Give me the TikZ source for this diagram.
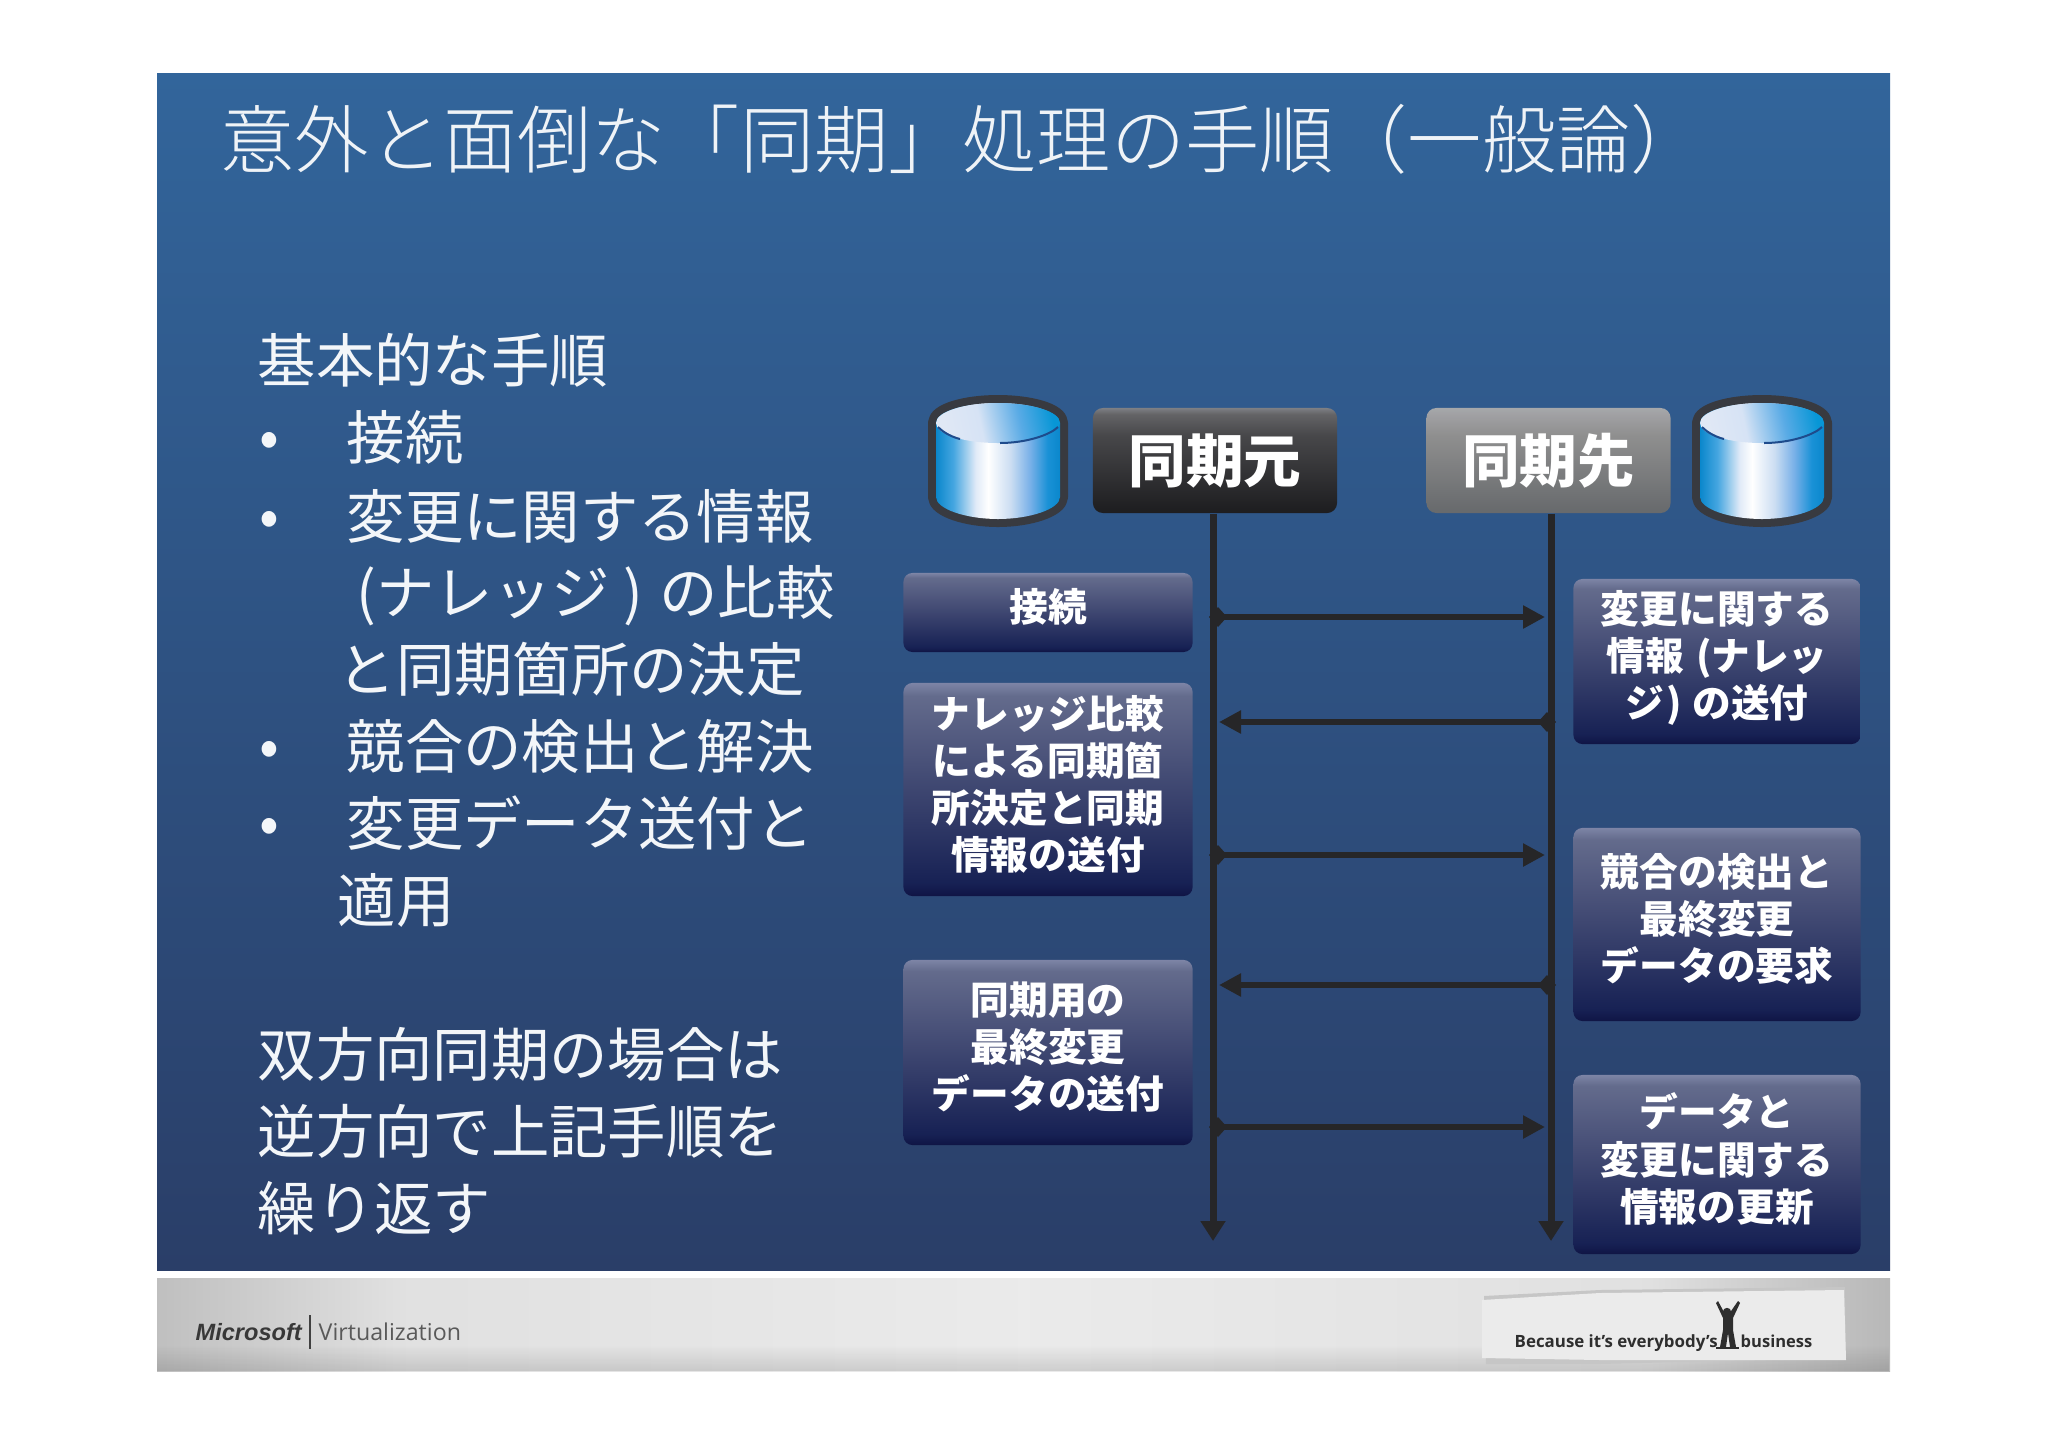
\documentclass[tikz,border=0pt]{standalone}
\usepackage{fontspec}
\usepackage{xcolor}
\usetikzlibrary{arrows.meta,fadings}
\setmainfont{Noto Sans CJK JP}
\newfontfamily\titlefont{Noto Sans CJK JP Light}
\newfontfamily\logofont{Liberation Sans}
\newfontfamily\footfont{Open Sans}
\definecolor{inkdark}{RGB}{38,38,40}
\definecolor{drumedge}{RGB}{56,58,64}
\definecolor{panelup}{RGB}{50,101,155}
\definecolor{panelmid}{RGB}{48,88,138}
\definecolor{paneldown}{RGB}{42,62,104}
\definecolor{rimblue}{RGB}{30,75,140}
\pgfdeclareverticalshading{navyface}{100bp}{rgb(0bp)=(0.06,0.08,0.27); rgb(25bp)=(0.06,0.08,0.27); rgb(28bp)=(0.09,0.13,0.33); rgb(60bp)=(0.31,0.34,0.49); rgb(72bp)=(0.39,0.42,0.55); rgb(75bp)=(0.49,0.52,0.65); rgb(100bp)=(0.49,0.52,0.65)}
\pgfdeclareverticalshading{darkface}{100bp}{rgb(0bp)=(0.11,0.11,0.12); rgb(27bp)=(0.12,0.12,0.13); rgb(62bp)=(0.28,0.28,0.29); rgb(72bp)=(0.39,0.39,0.40); rgb(75bp)=(0.49,0.50,0.52); rgb(100bp)=(0.49,0.50,0.52)}
\pgfdeclareverticalshading{greyface}{100bp}{rgb(0bp)=(0.35,0.36,0.38); rgb(27bp)=(0.41,0.42,0.43); rgb(62bp)=(0.56,0.56,0.56); rgb(72bp)=(0.63,0.63,0.64); rgb(75bp)=(0.65,0.66,0.67); rgb(100bp)=(0.65,0.66,0.67)}
\pgfdeclarehorizontalshading{drumface}{100bp}{rgb(0bp)=(0.04,0.53,0.80); rgb(25bp)=(0.04,0.53,0.80); rgb(32bp)=(0.27,0.65,0.88); rgb(41bp)=(0.88,0.92,0.97); rgb(46bp)=(1,1,1); rgb(55bp)=(0.80,0.87,0.95); rgb(63bp)=(0.47,0.69,0.91); rgb(70bp)=(0.10,0.57,0.84); rgb(75bp)=(0.04,0.53,0.80); rgb(100bp)=(0.04,0.53,0.80)}
\pgfdeclarehorizontalshading{drumtop}{100bp}{rgb(0bp)=(0.88,0.91,0.96); rgb(25bp)=(0.88,0.91,0.96); rgb(42bp)=(0.84,0.89,0.96); rgb(60bp)=(0.35,0.67,0.90); rgb(75bp)=(0.03,0.59,0.84); rgb(100bp)=(0.03,0.59,0.84)}
\pgfdeclarehorizontalshading{barface}{100bp}{gray(0bp)=(0.75); gray(25bp)=(0.75); gray(32bp)=(0.88); gray(50bp)=(0.92); gray(68bp)=(0.88); gray(75bp)=(0.72); gray(100bp)=(0.72)}
\tikzset{
  stepbox/.style={shading=navyface, rounded corners=0.09cm, inner sep=0pt, minimum width=2.89cm, text depth=4.2pt,
    align=center, text=white, font=\fontsize{11}{13.4}\selectfont\bfseries},
  headbox/.style={rounded corners=0.1cm, inner sep=0pt, minimum width=2.44cm, minimum height=1.05cm,
    text=white, font=\fontsize{16.4}{18}\selectfont\bfseries},
  bodytext/.style={anchor=base west, inner sep=0pt, text=white!94!panelup, font=\fontsize{16.6}{18}\selectfont},
  lifeline/.style={draw=inkdark, line width=0.07cm, -{Triangle[length=0.2cm,width=0.24cm]}},
  msgline/.style={draw=inkdark, line width=0.065cm, {Diamond[length=0.18cm,width=0.2cm]}-{Triangle[length=0.22cm,width=0.22cm]}, shorten >=0.06cm},
}
\newcommand{\drum}[2]{
  \begin{scope}[shift={(#1,#2)}]
    \draw[drumedge, line width=0.16cm, line join=round] (8,26) -- (8,100) .. controls (8,112) and (38,122) .. (70,122) .. controls (102,122) and (132,112) .. (132,100) -- (132,26) .. controls (132,14) and (102,6) .. (70,6) .. controls (38,6) and (8,14) .. (8,26) -- cycle;
    \shade[shading=drumface] (8,26) -- (8,100) .. controls (8,112) and (38,122) .. (70,122) .. controls (102,122) and (132,112) .. (132,100) -- (132,26) .. controls (132,14) and (102,6) .. (70,6) .. controls (38,6) and (8,14) .. (8,26) -- cycle;
    \shade[shading=drumtop, shading angle=12] (70,26) ellipse [x radius=62, y radius=20];
    \draw[rimblue, line width=0.02cm] (10,30) .. controls (16,36) and (24,40) .. (32,42);
    \draw[rimblue, line width=0.02cm] (72,46) .. controls (98,46) and (122,38) .. (130,30);
  \end{scope}
}
\begin{document}
\begin{tikzpicture}[x=0.01cm,y=-0.01cm]
  \useasboundingbox (0,0) rectangle (2048,1448);
  \fill[white] (0,0) rectangle (2048,1448);
  % panel and footer
  \shade[top color=panelup, middle color=panelmid, bottom color=paneldown] (157,73) rectangle (1890,1270);
  \shade[shading=barface] (157,1278) rectangle (1890,1371);
  \fill[black, fill opacity=0.12, path fading=north] (157,1345) rectangle (1890,1371);
  % title
  \node[anchor=base west, inner sep=0pt, text=white!92!panelup, font=\fontsize{21.1}{23}\selectfont\titlefont] (title) at (220,167) {意外と面倒な「同期」処理の手順（一般論）};
  % left text
  \node[bodytext] (basic) at (257,382) {基本的な手順};
  \node[bodytext] (dot1) at (259,457) {•};
  \node[bodytext] (item1) at (346,459) {接続};
  \node[bodytext] (dot2) at (259,536) {•};
  \node[bodytext] (item2) at (346,538) {変更に関する情報};
  \node[bodytext] (item2b) at (356,614) {(ナレッジ\kern4pt)\kern0.8pt{} の比較};
  \node[bodytext] (item2c) at (337,691) {と同期箇所の決定};
  \node[bodytext] (dot3) at (259,766) {•};
  \node[bodytext] (item3) at (346,768) {競合の検出と解決};
  \node[bodytext] (dot4) at (259,843) {•};
  \node[bodytext] (item4) at (346,845) {変更データ送付と};
  \node[bodytext] (item4b) at (337,922) {適用};
  \node[bodytext] (both1) at (257,1076) {双方向同期の場合は};
  \node[bodytext] (both2) at (257,1153) {逆方向で上記手順を};
  \node[bodytext] (both3) at (257,1230) {繰り返す};
  % drums
  \drum{928}{397}
  \drum{1692}{397}
  % heads
  \node[headbox, shading=darkface] (srchead) at (1215,460.5) {同期元};
  \node[headbox, shading=greyface] (dsthead) at (1548.5,460.5) {同期先};
  % lifelines
  \coordinate (srcend) at (1213,1241);
  \coordinate (dstend) at (1551,1241);
  \draw[lifeline] (srchead.south -| srcend) -- (srcend);
  \draw[lifeline] (dsthead.south -| dstend) -- (dstend);
  % left boxes
  \node[stepbox, minimum height=0.79cm] (connect) at (1048,612.5) {接続};
  \node[stepbox, minimum height=2.13cm] (compare) at (1048,789.5) {ナレッジ比較\\による同期箇\\所決定と同期\\情報の送付};
  \node[stepbox, minimum height=1.85cm] (senddata) at (1048,1052.5) {同期用の\\最終変更\\データの送付};
  % right boxes
  \node[stepbox, minimum width=2.87cm, minimum height=1.65cm] (knowledge) at (1717,661.5) {変更に関する\\情報\kern1pt{} (ナレッ\\ジ\kern0.6pt)\kern0.6pt{} の送付};
  \node[stepbox, minimum width=2.87cm, minimum height=1.93cm] (request) at (1717,924.5) {競合の検出と\\最終変更\\データの要求};
  \node[stepbox, minimum width=2.87cm, minimum height=1.79cm] (update) at (1717,1164.5) {データと\\変更に関する\\情報の更新};
  % messages
  \coordinate (src1) at (1209,617);  \coordinate (dst1) at (1551,617);
  \coordinate (src2) at (1213,722);  \coordinate (dst2) at (1556,722);
  \coordinate (src3) at (1209,855);  \coordinate (dst3) at (1551,855);
  \coordinate (src4) at (1213,985);  \coordinate (dst4) at (1556,985);
  \coordinate (src5) at (1209,1127); \coordinate (dst5) at (1551,1127);
  \draw[msgline] (src1) -- (dst1);
  \draw[msgline] (dst2) -- (src2);
  \draw[msgline] (src3) -- (dst3);
  \draw[msgline] (dst4) -- (src4);
  \draw[msgline] (src5) -- (dst5);
  % footer left
  \node[anchor=base west, inner sep=0pt, text=black!78, font=\fontsize{6.7}{8}\selectfont\logofont\bfseries\itshape] (mslogo) at (195,1340) {Microsoft};
  \draw[black!75, line width=0.012cm] (310,1315) -- (310,1349);
  \node[anchor=base west, inner sep=0pt, text=black!65, font=\fontsize{6.6}{8}\selectfont\footfont] (virt) at (318,1340) {Virtualization};
  % footer right
  \fill[gray!45] (1484,1296) -- (1600,1290) -- (1845,1287) -- (1846,1358) -- (1600,1364) -- (1486,1364) -- cycle;
  \fill[black!8] (1482,1300) -- (1600,1293) -- (1844,1290) -- (1846,1360) -- (1600,1360) -- (1482,1358) -- cycle;
  \node[anchor=base west, inner sep=0pt, text=black!82, font=\fontsize{4.8}{6}\selectfont\footfont\bfseries] (because) at (1514,1347) {Because it’s everybody’s};
  \node[anchor=base west, inner sep=0pt, text=black!82, font=\fontsize{4.7}{6}\selectfont\footfont\bfseries] (business) at (1740,1347) {business};
  \fill[black!82] (1716,1347) rectangle (1739,1349);
  \fill[black!82] (1727,1312) circle (4.2);
  \fill[black!82] (1716,1303) -- (1718,1301) -- (1725,1314) -- (1729,1314) -- (1738,1301) -- (1740,1303) -- (1733,1318) -- (1733,1330) -- (1736,1347) -- (1730,1347) -- (1728,1333) -- (1726,1347) -- (1720,1347) -- (1723,1330) -- (1723,1318) -- cycle;
\end{tikzpicture}
\end{document}
